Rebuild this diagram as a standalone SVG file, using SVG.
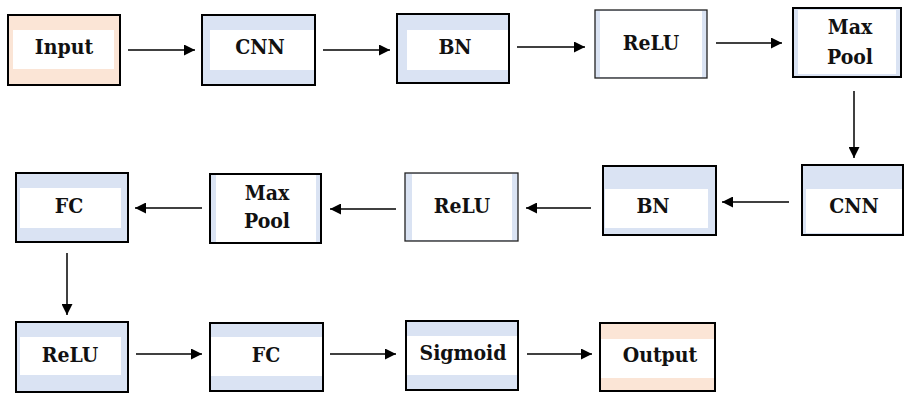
<svg xmlns="http://www.w3.org/2000/svg" width="905" height="395" viewBox="0 0 905 395">
<style>
.box{stroke:#000;stroke-width:2}
.thin{stroke:#222;stroke-width:1.3}
.blue{fill:#dae3f3}
.peach{fill:#fbe5d6}
.w{fill:#fff}
.t{font-family:'DejaVu Serif Condensed','DejaVu Serif','Liberation Serif',serif;font-stretch:condensed;font-weight:700;font-size:21px;fill:#111;text-anchor:middle}
.c{stroke:#000;stroke-width:1.5;fill:none;marker-end:url(#ah)}
</style>
<defs>
<marker id="ah" viewBox="0 0 10 10" refX="10" refY="5" markerWidth="13" markerHeight="11" markerUnits="userSpaceOnUse" orient="auto">
<path d="M0,0 L10,5 L0,10 Z" fill="#000"/>
</marker>
</defs>
<rect width="905" height="395" fill="#fff"/>
<g id="connectors">
<line class="c" x1="128" y1="50" x2="195" y2="50"/>
<line class="c" x1="323" y1="50" x2="390" y2="50"/>
<line class="c" x1="517" y1="47" x2="585" y2="47"/>
<line class="c" x1="716" y1="43" x2="782" y2="43"/>
<line class="c" x1="854" y1="91" x2="854" y2="158"/>
<line class="c" x1="789" y1="202" x2="722" y2="202"/>
<line class="c" x1="591" y1="208" x2="526" y2="208"/>
<line class="c" x1="396" y1="209" x2="330" y2="209"/>
<line class="c" x1="202" y1="208" x2="135" y2="208"/>
<line class="c" x1="67" y1="253" x2="67" y2="315"/>
<line class="c" x1="136" y1="354" x2="202" y2="354"/>
<line class="c" x1="330" y1="354" x2="396" y2="354"/>
<line class="c" x1="527" y1="354" x2="592" y2="354"/>
</g>
<g id="input">
<rect class="box peach" x="8" y="15" width="112" height="70"/>
<rect class="w" x="13" y="30" width="101" height="39"/>
<text class="t" x="64" y="54">Input</text>
</g>
<g id="cnn1">
<rect class="box blue" x="202" y="15" width="113" height="70"/>
<rect class="w" x="210" y="30" width="104" height="40"/>
<text class="t" x="260" y="54">CNN</text>
</g>
<g id="bn1">
<rect class="box blue" x="397" y="14" width="112" height="69"/>
<rect class="w" x="407" y="30" width="101" height="40"/>
<text class="t" x="455" y="54">BN</text>
</g>
<g id="relu1">
<rect class="thin blue" x="595" y="10" width="112" height="68"/>
<rect class="w" x="600" y="11" width="102" height="66"/>
<text class="t" x="651" y="50">ReLU</text>
</g>
<g id="maxpool1">
<rect class="box blue" x="793" y="8" width="108" height="69"/>
<rect class="w" x="798" y="10" width="98" height="64"/>
<text class="t" x="850" y="34">Max</text>
<text class="t" x="850" y="64">Pool</text>
</g>
<g id="cnn2">
<rect class="box blue" x="802" y="165" width="101" height="70"/>
<rect class="w" x="806" y="189" width="96" height="44"/>
<text class="t" x="854" y="213">CNN</text>
</g>
<g id="bn2">
<rect class="box blue" x="603" y="166" width="113" height="69"/>
<rect class="w" x="605" y="189" width="103" height="39"/>
<text class="t" x="653" y="213">BN</text>
</g>
<g id="relu2">
<rect class="thin blue" x="405" y="173" width="113" height="68"/>
<rect class="w" x="412" y="174" width="100" height="66"/>
<text class="t" x="462" y="213">ReLU</text>
</g>
<g id="maxpool2">
<rect class="box blue" x="210" y="174" width="111" height="69"/>
<rect class="w" x="216" y="175" width="100" height="67"/>
<text class="t" x="267" y="200">Max</text>
<text class="t" x="267" y="228">Pool</text>
</g>
<g id="fc1">
<rect class="box blue" x="16" y="173" width="112" height="69"/>
<rect class="w" x="20" y="188" width="101" height="40"/>
<text class="t" x="69" y="213">FC</text>
</g>
<g id="relu3">
<rect class="box blue" x="16" y="322" width="112" height="70"/>
<rect class="w" x="20" y="337" width="101" height="38"/>
<text class="t" x="70" y="362">ReLU</text>
</g>
<g id="fc2">
<rect class="box blue" x="210" y="323" width="113" height="68"/>
<rect class="w" x="211" y="337" width="111" height="39"/>
<text class="t" x="266" y="362">FC</text>
</g>
<g id="sigmoid">
<rect class="box blue" x="406" y="321" width="112" height="69"/>
<rect class="w" x="407" y="336" width="110" height="39"/>
<text class="t" x="463" y="360">Sigmoid</text>
</g>
<g id="output">
<rect class="box peach" x="600" y="323" width="115" height="68"/>
<rect class="w" x="601" y="339" width="113" height="39"/>
<text class="t" x="660" y="362">Output</text>
</g>
</svg>
